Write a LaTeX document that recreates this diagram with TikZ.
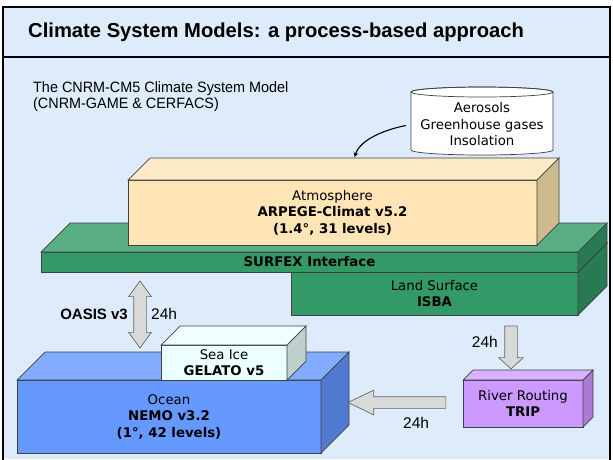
\documentclass[tikz,border=0pt]{standalone}
\usepackage{fontspec}
\setmainfont{Liberation Sans}
\newfontfamily\boxfont{DejaVu Sans}
\newfontfamily\narrowfont[FakeStretch=0.96]{Liberation Sans}
\usetikzlibrary{shapes.arrows,positioning}
\definecolor{bg}{RGB}{222,235,251}
\definecolor{atmfront}{RGB}{255,228,181}
\definecolor{atmtop}{RGB}{255,234,200}
\definecolor{atmside}{RGB}{206,186,143}
\definecolor{sfxfront}{RGB}{51,153,102}
\definecolor{sfxtop}{RGB}{90,174,132}
\definecolor{sfxside}{RGB}{40,122,82}
\definecolor{ocnfront}{RGB}{102,153,255}
\definecolor{ocntop}{RGB}{130,172,255}
\definecolor{ocnside}{RGB}{80,122,208}
\definecolor{icefront}{RGB}{235,255,255}
\definecolor{icetop}{RGB}{242,255,255}
\definecolor{iceside}{RGB}{192,208,204}
\definecolor{tripfront}{RGB}{204,153,255}
\definecolor{triptop}{RGB}{216,178,255}
\definecolor{tripside}{RGB}{170,122,212}
\definecolor{arrowgray}{RGB}{217,217,217}
% top and side of a box whose front is node #1
\newcommand{\boxfaces}[4]{%
  \filldraw[draw=black!75,line width=0.7pt,fill=#3] (#1.north west) -- ++(#2,-#2) -- ([shift={(#2,-#2)}]#1.north east) -- (#1.north east) -- cycle;
  \filldraw[draw=black!75,line width=0.7pt,fill=#4] (#1.north east) -- ++(#2,-#2) -- ([shift={(#2,-#2)}]#1.south east) -- (#1.south east) -- cycle;}
\begin{document}
\begin{tikzpicture}
  [x=1pt,y=-1pt,
   face/.style={draw=black!75,line width=0.7pt,inner sep=0pt,outer sep=0pt,align=center,
     font=\boxfont\fontsize{13.3}{16.5}\selectfont},
   block/.style={fill=arrowgray,draw=black!60,line width=0.7pt,outer sep=0pt},
   lbl/.style={inner sep=0pt,font=\fontsize{15.5}{18}\selectfont}]
  \useasboundingbox (0,0) rectangle (613,459);
  \fill[bg] (3,7) rectangle (610,459);
  \draw[line width=2pt] (3,462) -- (3,7) -- (610,7) -- (610,462);
  \draw[line width=1.2pt] (3,57) -- (610,57);
  \node[anchor=base west,inner sep=0pt,font=\bfseries\fontsize{20.2}{24}\selectfont] (title) at (28,37) {Climate System Models: a process-based approach};
  \node[anchor=north west,align=left,inner sep=0pt,font=\narrowfont\fontsize{15}{16}\selectfont] (model) at (33,81.5) {The CNRM-CM5 Climate System Model\\(CNRM-GAME \& CERFACS)};

  % forcings
  \filldraw[draw=black!75,line width=0.7pt,fill=white] (411,92) -- (411,150) arc[start angle=180,end angle=0,x radius=71,y radius=5] -- (553,92) arc[start angle=0,end angle=-180,x radius=71,y radius=5] -- cycle;
  \draw[black!75,line width=0.7pt] (482,92) ellipse[x radius=71,y radius=5];
  \node[inner sep=0pt,minimum width=142pt,align=center,font=\boxfont\fontsize{13.3}{16.5}\selectfont] (cyl) at (482,124.5) {Aerosols\\Greenhouse gases\\Insolation};

  % components
  \node[face,fill=sfxfront,minimum width=287pt,minimum height=43pt] (land) at (434.5,293.5) {Land Surface\\\textbf{ISBA}};
  \boxfaces{land}{29}{sfxtop}{sfxside}
  \node[face,fill=sfxfront,minimum width=537pt,minimum height=20pt] (sfx) at (309.5,262) {\textbf{SURFEX Interface}};
  \boxfaces{sfx}{29}{sfxtop}{sfxside}
  \node[face,fill=atmfront,minimum width=409pt,minimum height=65pt] (atm) at (332.5,212.5) {Atmosphere\\\textbf{ARPEGE-Climat v5.2}\\\textbf{(1.4°, 31 levels)}};
  \boxfaces{atm}{22}{atmtop}{atmside}
  \node[face,fill=ocnfront,minimum width=304pt,minimum height=73pt] (ocean) at (169,416.5) {Ocean\\\textbf{NEMO v3.2}\\\textbf{(1°, 42 levels)}};
  \boxfaces{ocean}{28}{ocntop}{ocnside}
  \node[face,fill=icefront,minimum width=126pt,minimum height=35pt] (ice) at (224,362.5) {Sea Ice\\\textbf{GELATO v5}};
  \boxfaces{ice}{19}{icetop}{iceside}
  \node[face,fill=tripfront,minimum width=120pt,minimum height=47pt] (trip) at (523,403.5) {River Routing\\\textbf{TRIP}};
  \boxfaces{trip}{10}{triptop}{tripside}

  % couplings
  \node[block,double arrow,shape border rotate=90,inner sep=6pt,minimum height=67pt,
    double arrow head extend=5pt,double arrow tip angle=72] (oasis) at (140,314.5) {};
  \node[block,single arrow,shape border rotate=270,inner sep=6pt,minimum height=43pt,
    single arrow head extend=6pt,single arrow tip angle=95] (runoff) at (511,344.5) {};
  \node[block,single arrow,shape border rotate=180,inner sep=5.5pt,minimum height=98pt,
    single arrow head extend=6.5pt,single arrow tip angle=51] (river) at (403,402.5) {};
  \node[lbl,anchor=base east,font=\bfseries\fontsize{15}{18}\selectfont] (cpl) at (128,319.5) {OASIS v3};
  \node[lbl,anchor=base west] (h1) at (151,319.5) {24h};
  \node[lbl,anchor=base east] (h2) at (498,347.5) {24h};
  \node[lbl,anchor=base west] (h3) at (403,428.5) {24h};

  \draw[->,>=stealth,line width=1.1pt] ([xshift=-5pt,yshift=-1pt]cyl.west) .. controls +(-20,4) and +(6,-18) .. ([shift={(22,-23)}]atm.north);
\end{tikzpicture}
\end{document}
